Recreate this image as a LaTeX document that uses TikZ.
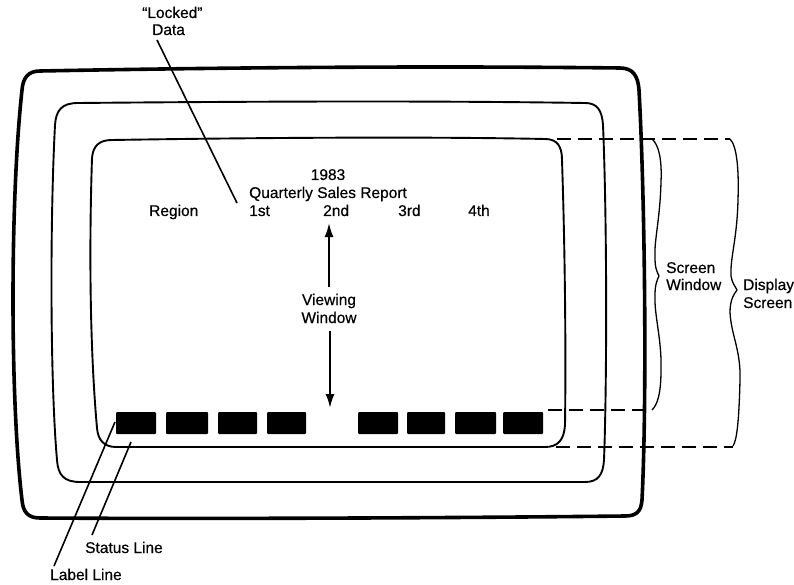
\documentclass[tikz,border=0pt]{standalone}
\usepackage{fontspec}
\setmainfont{Liberation Sans}
\newfontfamily\diagfont[FakeBold=0.5]{Liberation Sans}
\usetikzlibrary{arrows.meta}
\tikzset{
  txt/.style={font=\diagfont\fontsize{15.5}{18}\selectfont, inner sep=0pt},
  casing/.style={line width=3.6pt, line join=round},
  frame/.style={line width=1.9pt, line join=round},
  dashline/.style={line width=1.5pt, dash pattern=on 14pt off 7pt},
  pointer/.style={line width=1.6pt},
  bracebar/.style={line width=1.3pt, line join=round},
  key/.style={fill=black, rounded corners=1pt},
  vwarrow/.style={line width=2pt, -{Latex[length=14pt,width=9pt]}}
}
\begin{document}
\begin{tikzpicture}[x=1pt,y=-1pt]
\useasboundingbox (0,0) rectangle (794,585);
% outer casing
\draw[casing] (22,90) .. controls (23,78) and (28,71) .. (40,71)
  .. controls (250,67) and (450,66) .. (620,68)
  .. controls (633,68) and (638,76) .. (639,90)
  .. controls (645,200) and (647,400) .. (642,500)
  .. controls (641,512) and (636,516) .. (625,516)
  .. controls (450,518) and (200,519) .. (40,518)
  .. controls (28,518) and (23,512) .. (22,500)
  .. controls (10,400) and (10,200) .. (22,90) -- cycle;
% middle frame
\draw[frame] (55,125) .. controls (56,110) and (62,103) .. (78,103)
  .. controls (300,101) and (450,101) .. (585,103)
  .. controls (597,103) and (602,110) .. (603,125)
  .. controls (607,220) and (607,380) .. (604,460)
  .. controls (603,475) and (598,482) .. (585,482)
  -- (80,482)
  .. controls (64,482) and (58,475) .. (57,460)
  .. controls (50,380) and (50,220) .. (55,125) -- cycle;
% inner frame
\draw[frame] (92,158) .. controls (93,146) and (99,140) .. (112,140)
  .. controls (300,137) and (450,137) .. (545,139)
  .. controls (557,139) and (562,146) .. (562,160)
  .. controls (565,250) and (566,350) .. (565,425)
  .. controls (564,440) and (558,447) .. (545,447)
  -- (116,447)
  .. controls (104,447) and (98,440) .. (97,428)
  .. controls (90,350) and (89,250) .. (92,158) -- cycle;
% dashed extension lines
\coordinate (dt0) at (557,139);
\coordinate (dt1) at (730,139);
\coordinate (dm0) at (548,410);
\coordinate (dm1) at (652,410);
\coordinate (db0) at (556,447);
\coordinate (db1) at (733,447);
\draw[dashline] (dt0) -- (dt1);
\draw[dashline] (dm0) -- (dm1);
\draw[dashline] (db0) -- (db1);
% Screen Window brace
\draw[bracebar] (652,139) .. controls (659,145) and (662,160) .. (661,182)
  .. controls (660,220) and (654,240) .. (655,258)
  .. controls (655,268) and (657,272) .. (659,276)
  .. controls (657,280) and (655,285) .. (655,295)
  .. controls (654,315) and (662,340) .. (661,370)
  .. controls (661,395) and (657,405) .. (652,410);
% Display Screen brace
\draw[bracebar] (730,139) .. controls (737,146) and (739,170) .. (738,200)
  .. controls (737,240) and (730,258) .. (731,276)
  .. controls (732,283) and (735,286) .. (737,290)
  .. controls (734,294) and (730,300) .. (730,312)
  .. controls (731,335) and (741,350) .. (740,380)
  .. controls (739,420) and (737,440) .. (733,446);
% keys of status / label line
\node[key, minimum width=40pt, minimum height=22pt, inner sep=0pt] (k1) at (136,423) {};
\node[key, minimum width=42pt, minimum height=22pt, inner sep=0pt] (k2) at (187,423) {};
\node[key, minimum width=39pt, minimum height=22pt, inner sep=0pt] (k3) at (237.5,423) {};
\node[key, minimum width=39pt, minimum height=22pt, inner sep=0pt] (k4) at (286.5,423) {};
\node[key, minimum width=40pt, minimum height=22pt, inner sep=0pt] (k5) at (378,423) {};
\node[key, minimum width=38pt, minimum height=22pt, inner sep=0pt] (k6) at (426,423) {};
\node[key, minimum width=41pt, minimum height=22pt, inner sep=0pt] (k7) at (475.5,423) {};
\node[key, minimum width=40pt, minimum height=22pt, inner sep=0pt] (k8) at (523,423) {};
% texts
\node[txt, anchor=base west] (locked) at (142,18) {“Locked”};
\node[txt, anchor=base west] (data) at (152,35) {Data};
\node[txt, anchor=base] (year) at (328,180) {1983};
\node[txt, anchor=base west] (title) at (249,198) {Quarterly Sales Report};
\node[txt, anchor=base west] (region) at (149,216) {Region};
\node[txt, anchor=base west] (q1) at (249,216) {1st};
\node[txt, anchor=base west] (q2) at (323,216) {2nd};
\node[txt, anchor=base west] (q3) at (398,216) {3rd};
\node[txt, anchor=base west] (q4) at (468,216) {4th};
\node[txt, anchor=base] (viewing) at (329,305) {Viewing};
\node[txt, anchor=base] (vwindow) at (329,323) {Window};
\node[txt, anchor=base west] (sscreen) at (666,273) {Screen};
\node[txt, anchor=base west] (swindow) at (666,290) {Window};
\node[txt, anchor=base west] (display) at (743,290) {Display};
\node[txt, anchor=base west] (dscreen) at (743,308) {Screen};
\node[txt, anchor=base west] (status) at (85,553) {Status Line};
\node[txt, anchor=base west] (label) at (50,580) {Label Line};
% pointers
\coordinate (lockedend) at (237,203);
\coordinate (lockedstart) at (157,40);
\draw[pointer] (lockedstart) -- (lockedend);
\coordinate (labeltop) at (115,422);
\coordinate (labelbot) at (54,566);
\draw[pointer] (labeltop) -- (labelbot);
\coordinate (statustop) at (131,442);
\coordinate (statusbot) at (92,535);
\draw[pointer] (statustop) -- (statusbot);
% viewing window arrows
\coordinate (uptip) at (329,223);
\coordinate (downtip) at (330,408);
\draw[vwarrow] (329,287) -- (uptip);
\draw[vwarrow] (330,331) -- (downtip);
\end{tikzpicture}
\end{document}
